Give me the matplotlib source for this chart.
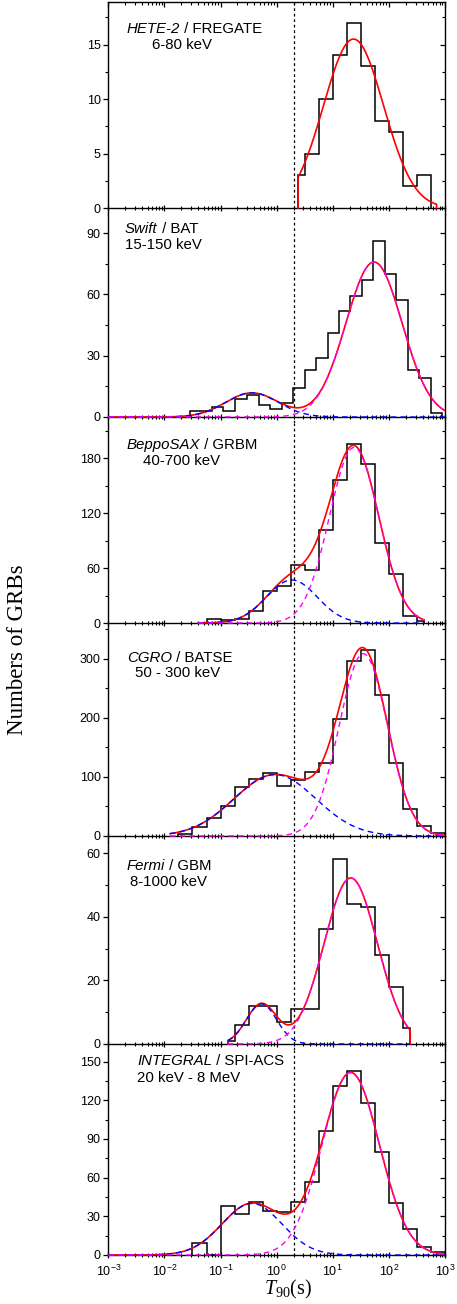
import numpy as np
import matplotlib
matplotlib.use("Agg")
import matplotlib.pyplot as plt
from matplotlib.ticker import LogLocator, MultipleLocator, NullFormatter, FuncFormatter

plt.rcParams['font.family'] = ['Liberation Sans', 'DejaVu Sans']
plt.rcParams['mathtext.fontset'] = 'custom'
plt.rcParams['mathtext.rm'] = 'Liberation Sans'
plt.rcParams['mathtext.it'] = 'Liberation Serif:italic'
plt.rcParams['mathtext.sf'] = 'Liberation Serif'

# ---------------- histogram data: bin edges in log10(T90 / s), counts per bin
hete_edges = [0.38, 0.5, 0.75, 1.0, 1.25, 1.5, 1.75, 2.0, 2.25, 2.5, 2.75]
hete_counts = [3, 5, 10, 14, 17, 13, 8, 7, 2, 3]

swift_edges = [-1.55, -1.35, -1.15, -0.95, -0.74, -0.53, -0.32, -0.12, 0.09, 0.29,
               0.5, 0.7, 0.91, 1.11, 1.31, 1.52, 1.72, 1.93, 2.13, 2.34, 2.54, 2.75, 2.95]
swift_counts = [3, 3, 5, 3, 9, 11, 6, 4, 7, 14, 23, 29, 41, 52, 59, 67, 86, 70, 57, 23, 19, 2]

sax_edges = [-1.25, -1.0, -0.75, -0.5, -0.25, 0.0, 0.25, 0.5, 0.75, 1.0, 1.25, 1.5,
             1.75, 2.0, 2.25, 2.5, 2.63]
sax_counts = [4, 3, 4, 13, 35, 40, 63, 58, 102, 156, 195, 173, 87, 53, 8, 2]

batse_edges = [-1.75, -1.5, -1.25, -1.0, -0.75, -0.5, -0.25, 0.0, 0.25, 0.5, 0.75,
               1.0, 1.25, 1.5, 1.75, 2.0, 2.25, 2.5, 2.75, 3.0]
batse_counts = [3, 16, 31, 51, 83, 97, 107, 85, 95, 108, 124, 198, 296, 316, 239,
                124, 46, 17, 5]

gbm_edges = [-0.87, -0.75, -0.5, -0.25, 0.0, 0.25, 0.5, 0.75, 1.0, 1.25, 1.5, 1.75,
             2.0, 2.25, 2.38]
gbm_counts = [1, 6, 12, 12, 7, 11, 11, 36, 58, 44, 43, 28, 18, 5]

acs_edges = [-1.5, -1.25, -1.0, -0.75, -0.5, -0.25, 0.0, 0.25, 0.5, 0.75, 1.0, 1.25,
             1.5, 1.75, 2.0, 2.25, 2.5, 2.75, 3.0]
acs_counts = [9, 0, 38, 32, 41, 34, 33, 41, 57, 96, 131, 143, 118, 80, 40, 20, 6, 2]

# ---------------- lognormal fit components: (amplitude, mean log10 T90, sigma)
hete_long = (15.5, 1.37, 0.535)
swift_short, swift_long = (11.8, -0.44, 0.47), (75.8, 1.735, 0.50)
sax_short, sax_long = (47.0, 0.27, 0.45), (191.5, 1.38, 0.44)
batse_short, batse_long = (104.0, -0.03, 0.73), (309.0, 1.545, 0.43)
gbm_short, gbm_long = (12.6, -0.27, 0.27), (52.2, 1.32, 0.475)
acs_short, acs_long = (40.0, -0.44, 0.53), (141.5, 1.32, 0.51)

# fit ranges in log10(T90)
hete_range = (0.38, 2.85)
swift_range = (-3.0, 3.0)
sax_range = (-1.4, 2.63)
batse_range = (-1.9, 3.0)
gbm_range = (-0.87, 2.38)
acs_range = (-3.0, 3.0)

T_DIVIDE = 2.0  # s, classical short/long boundary

W, H = 457, 1304
fig = plt.figure(figsize=(W / 100, H / 100), dpi=100)
x_left, x_right = 108.3, 445.0


def gauss(lx, p):
    a, m, s = p
    return a * np.exp(-(lx - m) ** 2 / (2 * s ** 2))


panels = [
    dict(edges=hete_edges, counts=hete_counts, comps=[], single=hete_long,
         rng=hete_range, drops=True, px=(2, 214), ylim=(-0.55, 18.9),
         major=5, minor=2.5, name='HETE-2', inst=' / FREGATE', band='6-80 keV',
         t1=(126.7, 33.3), t2=(151.7, 49.3)),
    dict(edges=swift_edges, counts=swift_counts, comps=[swift_short, swift_long],
         rng=swift_range, drops=False, px=(214, 423), ylim=(-2.94, 99.3),
         major=30, minor=15, name='Swift', inst=' / BAT', band='15-150 keV',
         t1=(125.0, 233.3), t2=(125.0, 249.3)),
    dict(edges=sax_edges, counts=sax_counts, comps=[sax_short, sax_long],
         rng=sax_range, drops=False, px=(423, 629), ylim=(-6.5, 218.2),
         major=60, minor=30, name='BeppoSAX', inst=' / GRBM', band='40-700 keV',
         t1=(126.7, 449.0), t2=(142.7, 465.0)),
    dict(edges=batse_edges, counts=batse_counts, comps=[batse_short, batse_long],
         rng=batse_range, drops=False, px=(629, 842), ylim=(-10.2, 350.8),
         major=100, minor=50, name='CGRO', inst=' / BATSE', band='50 - 300 keV',
         t1=(126.7, 662.3), t2=(135.0, 677.3)),
    dict(edges=gbm_edges, counts=gbm_counts, comps=[gbm_short, gbm_long],
         rng=gbm_range, drops=True, px=(842, 1050), ylim=(-1.9, 63.5),
         major=20, minor=10, name='Fermi', inst=' / GBM', band='8-1000 keV',
         t1=(126.7, 870.0), t2=(130.0, 885.7)),
    dict(edges=acs_edges, counts=acs_counts, comps=[acs_short, acs_long],
         rng=acs_range, drops=False, px=(1050, 1256), ylim=(-0.78, 159.0),
         major=30, minor=15, name='INTEGRAL', inst=' / SPI-ACS', band='20 keV - 8 MeV',
         t1=(137.0, 1065.0), t2=(136.7, 1081.7)),
]

tick_fs = 9
text_fs = 10.8
n = len(panels)
for i, P in enumerate(panels):
    top, bot = P['px']
    ax = fig.add_axes([x_left / W, 1 - bot / H, (x_right - x_left) / W, (bot - top) / H])
    ax.set_xscale('log')
    ax.set_xlim(1e-3, 1e3)
    ax.set_ylim(*P['ylim'])

    # histogram outline
    ax.stairs(P['counts'], 10.0 ** np.asarray(P['edges']), color='black', lw=1.1,
              baseline=0, zorder=3)

    # fit curves
    lx = np.linspace(P['rng'][0], P['rng'][1], 800)
    if P['comps']:
        comp_vals = [gauss(lx, c) for c in P['comps']]
        total = comp_vals[0] + comp_vals[1]
    else:
        comp_vals = []
        total = gauss(lx, P['single'])
    xr = 10.0 ** lx
    if P['drops']:
        xr_plot = np.concatenate([[xr[0]], xr, [xr[-1]]])
        tot_plot = np.concatenate([[0.0], total, [0.0]])
    else:
        xr_plot, tot_plot = xr, total
    ax.plot(xr_plot, tot_plot, color='#ff0000', lw=1.2, zorder=4)
    if comp_vals:
        ax.plot(xr, comp_vals[0], color='#0000ff', lw=1.0, ls=(0, (4, 3)), zorder=5)
        ax.plot(xr, comp_vals[1], color='#ff00ff', lw=1.0, ls=(0, (4, 3)), zorder=5)

    # short/long divide
    ax.axvline(T_DIVIDE, color='black', lw=0.9, ls=(0, (2.2, 2.2)), zorder=2)

    # spines and ticks
    for s in ['left', 'right', 'bottom', 'top']:
        ax.spines[s].set_linewidth(1.0)
    ax.spines['bottom'].set_position(('data', 0))
    ax.spines['top'].set_visible(i == 0)

    ax.xaxis.set_major_locator(LogLocator(base=10, numticks=10))
    ax.xaxis.set_minor_locator(LogLocator(base=10, subs=np.arange(2, 10), numticks=10))
    ax.xaxis.set_minor_formatter(NullFormatter())
    ax.xaxis.set_major_formatter(
        FuncFormatter(lambda v, p: r'$\mathrm{10^{%d}}$' % int(round(np.log10(v)))))
    ax.tick_params(axis='x', which='major', direction='inout', length=5, width=0.9,
                   labelsize=tick_fs, pad=4, labelbottom=(i == n - 1), top=False)
    ax.tick_params(axis='x', which='minor', direction='inout', length=3, width=0.8,
                   top=False)

    ax.yaxis.set_major_locator(MultipleLocator(P['major']))
    ax.yaxis.set_minor_locator(MultipleLocator(P['minor']))
    ax.tick_params(axis='y', which='major', direction='out', length=3.5, width=0.9,
                   labelsize=tick_fs, pad=2, right=False)
    ax.tick_params(axis='y', which='minor', direction='out', length=2, width=0.8,
                   right=False)
    ax.set_yticks([t for t in ax.get_yticks() if 0 <= t <= P['ylim'][1]])
    ax.set_ylim(*P['ylim'])

    # inward mirror ticks on the right (and on the top of the first panel)
    ry = ax.secondary_yaxis('right')
    ry.yaxis.set_major_locator(MultipleLocator(P['major']))
    ry.yaxis.set_minor_locator(MultipleLocator(P['minor']))
    ry.tick_params(which='major', direction='in', length=3.5, width=0.9, labelright=False)
    ry.tick_params(which='minor', direction='in', length=2, width=0.8)
    ry.spines['right'].set_visible(False)
    if i == 0:
        tx = ax.secondary_xaxis('top')
        tx.xaxis.set_major_locator(LogLocator(base=10, numticks=10))
        tx.xaxis.set_minor_locator(LogLocator(base=10, subs=np.arange(2, 10), numticks=10))
        tx.xaxis.set_minor_formatter(NullFormatter())
        tx.tick_params(which='major', direction='in', length=3.5, width=0.9, labeltop=False)
        tx.tick_params(which='minor', direction='in', length=2, width=0.8)
        tx.spines['top'].set_visible(False)

    # mission / instrument labels
    x1, y1 = P['t1']
    t1 = fig.text(x1 / W, 1 - y1 / H, P['name'], style='italic', fontsize=text_fs,
                  va='baseline', ha='left')
    ax.annotate(P['inst'], xy=(1, 0), xycoords=t1, va='bottom', ha='left',
                fontsize=text_fs)
    x2, y2 = P['t2']
    fig.text(x2 / W, 1 - y2 / H, P['band'], fontsize=text_fs, va='baseline', ha='left')

fig.text(18 / W, 1 - 650 / H, 'Numbers of GRBs', rotation=90, family='Liberation Serif',
         fontsize=16.5, ha='center', va='center')
fig.text(288 / W, 1 - 1289 / H, r'$T_{\mathsf{90}}\mathsf{(s)}$', fontsize=14.5,
         ha='center', va='center')

fig.savefig('out.png', dpi=100)
